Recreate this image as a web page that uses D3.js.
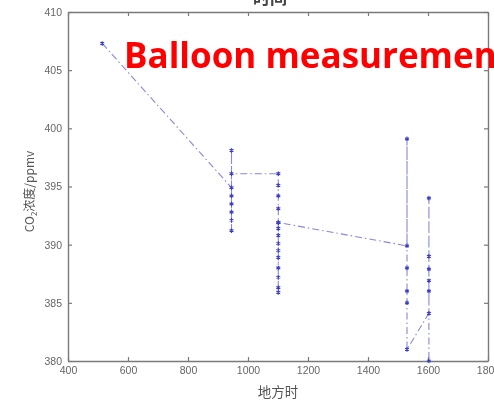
<!DOCTYPE html>
<html>
<head>
<meta charset="utf-8">
<script src="https://cdn.jsdelivr.net/npm/d3@7"></script>
<style>
  html, body { margin: 0; padding: 0; background: #fff; }
  svg { display: block; }
</style>
</head>
<body>
<svg id="chart" width="494" height="401"></svg>
<script>
// Balloon soundings: CO2 concentration against local time.
// Points are listed in the order the profile line visits them.
const localTime = [
  514,
  945, 945, 945, 945, 945, 945, 945, 945,
  1101, 1101, 1101, 1101, 1101, 1101, 1101, 1101, 1101, 1101, 1101, 1101, 1101, 1101, 1101,
  1530, 1530, 1530, 1530, 1530, 1530,
  1603, 1603, 1603, 1603, 1603, 1603, 1603
];
const co2ppmv = [
  407.3,
  394.9, 398.1, 394.2, 393.5, 392.8, 392.1, 391.2, 396.1,
  396.1, 395.1, 394.2, 393.1, 391.9, 391.4, 390.8, 390.1, 389.5, 388.9, 388.0, 387.2, 386.3, 385.9, 391.9,
  389.9, 399.1, 388.0, 386.0, 385.0, 381.0,
  384.1, 386.0, 386.9, 387.9, 389.0, 394.0, 380.0
];
const xTicks = [400, 600, 800, 1000, 1200, 1400, 1600, 1800];
const yTicks = [380, 385, 390, 395, 400, 405, 410];
const titleText = "时间";
const xLabel = "地方时";
const overlayText = "Balloon measurement";

const svg = d3.select("#chart");
const W = 494, H = 401;
const m = { left: 68, right: 6, top: 12, bottom: 40 };
const x = d3.scaleLinear().domain([400, 1800]).range([m.left, W - m.right]);
const y = d3.scaleLinear().domain([380, 410]).range([H - m.bottom, m.top]);

const defs = svg.append("defs");
defs.append("filter").attr("id", "soft")
  .append("feGaussianBlur").attr("stdDeviation", 0.45);

const g = svg.append("g").attr("filter", "url(#soft)");

const axisColor = "#7a7a7a";
const tickFont = "Liberation Sans, Arial, sans-serif";
const fmt = d3.format("d");

// Axes: bottom/left with labels, top/right as tick-only box edges; ticks point inward.
const axes = [
  { ax: d3.axisBottom(x).tickValues(xTicks).tickFormat(fmt).tickSizeInner(-4).tickSizeOuter(0).tickPadding(6), t: `translate(0,${y(380)})` },
  { ax: d3.axisLeft(y).tickValues(yTicks).tickFormat(fmt).tickSizeInner(-4).tickSizeOuter(0).tickPadding(6), t: `translate(${x(400)},0)` },
  { ax: d3.axisTop(x).tickValues(xTicks).tickSizeInner(-4).tickSizeOuter(0).tickFormat(""), t: `translate(0,${y(410)})` },
  { ax: d3.axisRight(y).tickValues(yTicks).tickSizeInner(-4).tickSizeOuter(0).tickFormat(""), t: `translate(${x(1800)},0)` }
];
axes.forEach(a => {
  const sel = g.append("g").attr("transform", a.t).call(a.ax);
  sel.select(".domain").attr("stroke", axisColor).attr("stroke-width", 1.4);
  sel.selectAll(".tick line").attr("stroke", axisColor).attr("stroke-width", 1.2);
  sel.selectAll(".tick text")
    .attr("fill", "#666").attr("font-family", tickFont).attr("font-size", 10.5);
});

// Profile line
const line = d3.line().x((d, i) => x(localTime[i])).y(d => y(d));
g.append("path")
  .datum(co2ppmv)
  .attr("d", line)
  .attr("fill", "none")
  .attr("stroke", "#6a6ad0")
  .attr("stroke-width", 1.1)
  .attr("stroke-opacity", 0.8)
  .attr("stroke-dasharray", "7,3,1.5,3");

// Star markers
const sym = d3.symbolAsterisk || d3.symbolCross;
g.append("g").selectAll("path")
  .data(co2ppmv)
  .join("path")
  .attr("transform", (d, i) => `translate(${x(localTime[i])},${y(d)})`)
  .attr("d", d3.symbol().type(sym).size(14))
  .attr("fill", "none")
  .attr("stroke", "#3b3bc8")
  .attr("stroke-width", 1.1);

// Titles and axis labels
g.append("text")
  .attr("x", (x(400) + x(1800)) / 2 - 8).attr("y", 4)
  .attr("text-anchor", "middle")
  .attr("font-family", "Noto Sans CJK SC, sans-serif")
  .attr("font-size", 17).attr("font-weight", 700)
  .attr("fill", "#444")
  .text(titleText);

g.append("text")
  .attr("x", (x(400) + x(1800)) / 2).attr("y", 397)
  .attr("text-anchor", "middle")
  .attr("font-family", "Noto Sans CJK SC, sans-serif")
  .attr("font-size", 13.5)
  .attr("fill", "#555")
  .text(xLabel);

const yl = g.append("text")
  .attr("transform", `translate(34,${(y(380) + y(410)) / 2 + 5}) rotate(-90)`)
  .attr("text-anchor", "middle")
  .attr("font-family", "Noto Sans CJK SC, sans-serif")
  .attr("font-size", 12)
  .attr("fill", "#555");
yl.append("tspan").text("CO");
yl.append("tspan").attr("font-size", 8).attr("dy", 3).text("2");
yl.append("tspan").attr("dy", -3).text("浓度/ppmv");

// Red annotation on top
svg.append("text")
  .attr("x", 124).attr("y", 68)
  .attr("font-family", "Open Sans, sans-serif")
  .attr("font-weight", 700)
  .attr("font-size", 35)
  .attr("fill", "#ff0000")
  .text(overlayText);
</script>
</body>
</html>
